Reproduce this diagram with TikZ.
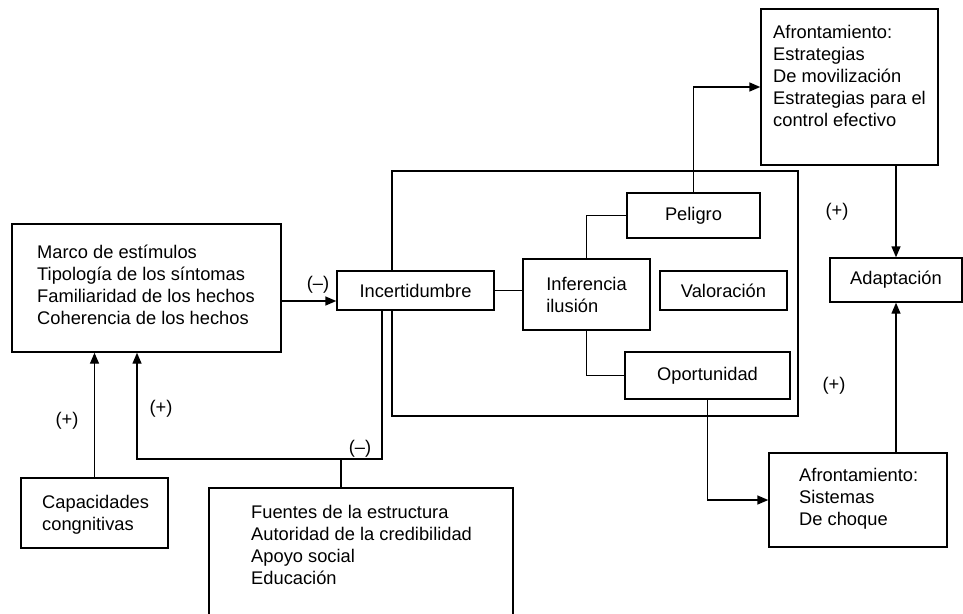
\documentclass[tikz,border=0pt]{standalone}
\usepackage{fontspec}
\setmainfont{Liberation Sans}
\usetikzlibrary{arrows.meta}
\tikzset{
    plain-box/.style = {draw, fill=white, line width=1.4pt, rectangle, inner sep=0pt},
    box-text/.style = {anchor=north west, inner sep=0pt, align=left},
    sign-label/.style = {inner sep=0pt},
    flow-line/.style = {line width=1.4pt},
    flow-arrow/.style = {line width=1.4pt, -{Triangle[length=11pt,width=9pt]}},
}

\begin{document}
\begin{tikzpicture}[x=1pt, y=-1pt, font=\fontsize{18.3}{22}\selectfont]
\useasboundingbox (0,0) rectangle (963,613);
\node [plain-box, minimum width=406pt, minimum height=245pt] (frame) at (595,293.5) {};
\node [plain-box, minimum width=269pt, minimum height=128pt] (marco) at (146.5,288) {};
\node [box-text] (marco-text) at (37,245) {Marco de estímulos\\Tipología de los síntomas\\Familiaridad de los hechos\\Coherencia de los hechos};
\node [plain-box, minimum width=157pt, minimum height=39pt] (incert) at (415.5,290.5) {Incertidumbre};
\node [plain-box, minimum width=127pt, minimum height=71pt, align=left] (infer) at (586.5,294.5) {Inferencia\\ilusión};
\node [plain-box, minimum width=133pt, minimum height=45pt] (peligro) at (693.5,215.5) {Peligro};
\node [plain-box, minimum width=127pt, minimum height=39pt] (valor) at (723.5,290.5) {Valoración};
\node [plain-box, minimum width=165pt, minimum height=47pt] (oport) at (707.5,375.5) {Oportunidad};
\node [plain-box, minimum width=177pt, minimum height=156pt] (afront-a) at (849.5,87) {};
\node [box-text] (afront-a-text) at (773,25) {Afrontamiento:\\Estrategias\\De movilización\\Estrategias para el\\control efectivo};
\node [plain-box, minimum width=132pt, minimum height=44pt] (adapt) at (896,280) {Adaptación};
\node [plain-box, minimum width=178pt, minimum height=94pt] (afront-b) at (858,500) {};
\node [box-text] (afront-b-text) at (799,468) {Afrontamiento:\\Sistemas\\De choque};
\node [plain-box, minimum width=147pt, minimum height=70pt] (capac) at (94.5,513) {};
\node [box-text] (capac-text) at (42,495) {Capacidades\\congnitivas};
\node [plain-box, minimum width=304pt, minimum height=130pt] (fuentes) at (361,553) {};
\node [box-text] (fuentes-text) at (251,505) {Fuentes de la estructura\\Autoridad de la credibilidad\\Apoyo social\\Educación};
\coordinate (knee) at (137,459);

\draw [flow-arrow] ([yshift=-10.5pt]incert.west -| marco.east) -- ([yshift=-10.5pt]incert.west);
\draw [flow-line] (incert.east) -- (incert.east -| infer.west);
\draw [flow-line] (infer.north) |- (peligro.west);
\draw [flow-line] (infer.south) |- (oport.west);
\draw [flow-arrow] (peligro.north) |- (afront-a.west);
\draw [flow-arrow] (afront-a.south -| adapt.north) -- (adapt.north);
\draw [flow-arrow] (afront-b.north -| adapt.south) -- (adapt.south);
\draw [flow-arrow] (oport.south) |- (afront-b.west);
\draw [flow-arrow] ([xshift=-33.5pt]incert.south) |- (knee) -- (knee |- marco.south);
\draw [flow-line] ([xshift=-20pt]fuentes.north) -- ([xshift=-20pt]fuentes.north |- knee);
\draw [flow-arrow] (capac.north) -- (capac.north |- marco.south);

\node [sign-label] (sign-a) at (318,285) {(–)};
\node [sign-label] (sign-b) at (360,449) {(–)};
\node [sign-label] (sign-c) at (67,421) {(+)};
\node [sign-label] (sign-d) at (161,409) {(+)};
\node [sign-label] (sign-e) at (837,212) {(+)};
\node [sign-label] (sign-f) at (834,386) {(+)};
\end{tikzpicture}
\end{document}
